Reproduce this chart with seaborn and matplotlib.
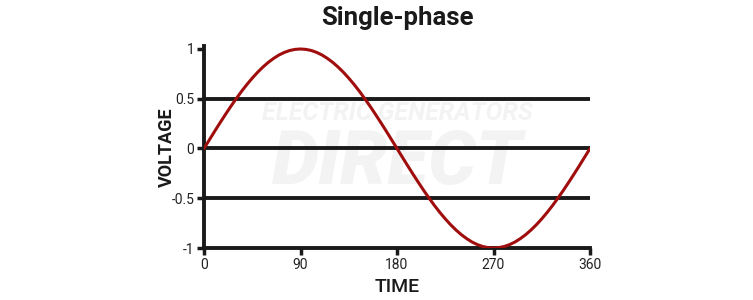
import matplotlib
matplotlib.use("Agg")
import matplotlib.pyplot as plt
import seaborn as sns
import pandas as pd

# Values (time in degrees, voltage)
time_deg = [0, 5, 10, 15, 20, 25, 30, 35, 40, 45, 50, 55, 60, 65, 70, 75, 80, 85,
            90, 95, 100, 105, 110, 115, 120, 125, 130, 135, 140, 145, 150, 155,
            160, 165, 170, 175, 180, 185, 190, 195, 200, 205, 210, 215, 220, 225,
            230, 235, 240, 245, 250, 255, 260, 265, 270, 275, 280, 285, 290, 295,
            300, 305, 310, 315, 320, 325, 330, 335, 340, 345, 350, 355, 360]
voltage = [0.0, 0.087, 0.174, 0.259, 0.342, 0.423, 0.5, 0.574, 0.643, 0.707, 0.766,
           0.819, 0.866, 0.906, 0.94, 0.966, 0.985, 0.996, 1.0, 0.996, 0.985, 0.966,
           0.94, 0.906, 0.866, 0.819, 0.766, 0.707, 0.643, 0.574, 0.5, 0.423, 0.342,
           0.259, 0.174, 0.087, 0.0, -0.087, -0.174, -0.259, -0.342, -0.423, -0.5,
           -0.574, -0.643, -0.707, -0.766, -0.819, -0.866, -0.906, -0.94, -0.966,
           -0.985, -0.996, -1.0, -0.996, -0.985, -0.966, -0.94, -0.906, -0.866,
           -0.819, -0.766, -0.707, -0.643, -0.574, -0.5, -0.423, -0.342, -0.259,
           -0.174, -0.087, 0.0]
x_ticks = [0, 90, 180, 270, 360]
y_ticks = [-1, -0.5, 0, 0.5, 1]
y_tick_labels = ["-1", "-0.5", "0", "0.5", "1"]
grid_levels = [-0.5, 0, 0.5]

sns.set_theme(style="white")
plt.rcParams['font.family'] = ['Roboto', 'DejaVu Sans']

df = pd.DataFrame({"time": time_deg, "voltage": voltage})

fig = plt.figure(figsize=(7.53, 3.0), dpi=100)
ax = fig.add_axes([204/753, 1-248/300, (590-204)/753, (248-46)/300])

# watermark
ax.text(0.5, 0.67, "ELECTRIC GENERATORS", transform=ax.transAxes, ha="center", va="center",
        fontsize=18, fontweight="bold", style="italic", color="#f3f3f3", zorder=0)
ax.text(0.5, 0.42, "DIRECT", transform=ax.transAxes, ha="center", va="center",
        fontsize=54, fontweight="black", style="italic", color="#f3f3f3", zorder=0)

for lv in grid_levels:
    ax.axhline(lv, color="#1a1a1a", lw=2.8, zorder=1)

sns.lineplot(data=df, x="time", y="voltage", ax=ax, color="#a00d0d", lw=2.2, zorder=3)

ax.set_xlim(0, 360)
ax.set_ylim(-1, 1.03)
ax.set_xticks(x_ticks)
ax.set_xticklabels([str(t) for t in x_ticks])
ax.set_yticks(y_ticks)
ax.set_yticklabels(y_tick_labels)

for s in ["top", "right"]:
    ax.spines[s].set_visible(False)
for s in ["left", "bottom"]:
    ax.spines[s].set_color("#1a1a1a")
    ax.spines[s].set_linewidth(2.8)

ax.tick_params(axis="both", which="major", length=5, width=2.5, color="#1a1a1a",
               labelsize=10, labelcolor="#222222", pad=2, bottom=True, left=True)

ax.set_xlabel("TIME", fontsize=14, fontweight="medium", color="#1a1a1a", labelpad=4.5)
ax.set_ylabel("VOLTAGE", fontsize=13, fontweight="bold", color="#1a1a1a", labelpad=-3)

fig.text(397/753, 1-18/300, "Single-phase", ha="center", va="center",
         fontsize=18.5, fontweight="bold", color="#1a1a1a")

fig.savefig("out.png", dpi=100, facecolor="white")
